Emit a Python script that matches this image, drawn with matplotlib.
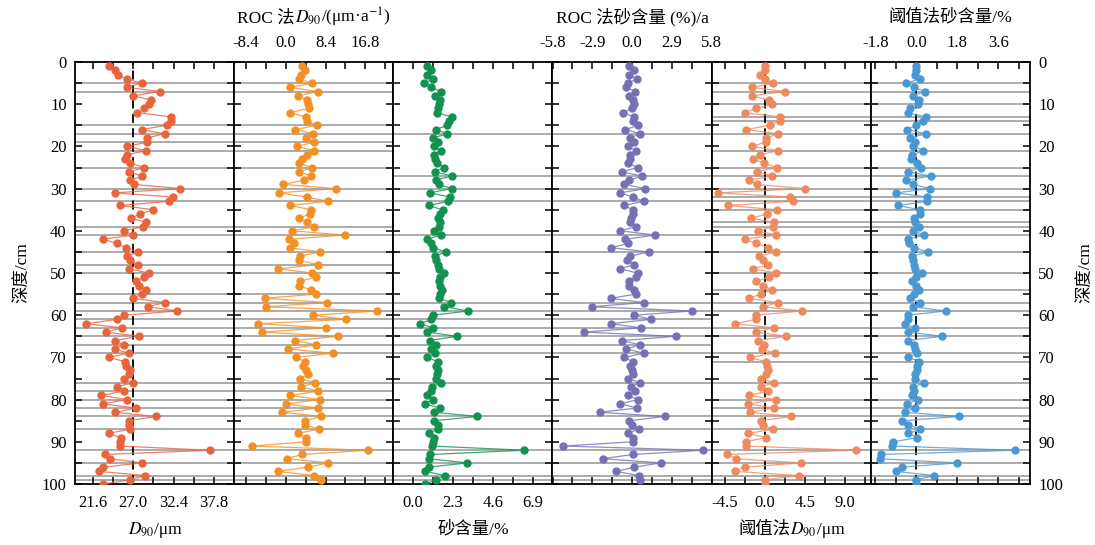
import numpy as np
import matplotlib
matplotlib.use("Agg")
import matplotlib.pyplot as plt
from matplotlib.ticker import MultipleLocator, FormatStrFormatter
from matplotlib.offsetbox import TextArea, HPacker, AnnotationBbox

plt.rcParams['font.family'] = ['Liberation Serif', 'Noto Sans CJK SC']
plt.rcParams['mathtext.fontset'] = 'stix'
plt.rcParams['font.size'] = 12

# sample depths (cm)
depth = np.arange(1, 101)

# grain size D90 (um)
d90 = [23.8, 24.6, 24.9, 26.1, 28.1, 26.1, 30.6, 27.0, 29.4, 29.1,
       28.4, 27.5, 32.0, 32.0, 31.5, 28.1, 31.2, 28.8, 28.8, 26.2,
       28.7, 26.1, 25.9, 26.6, 28.5, 26.4, 28.2, 26.6, 27.1, 33.3,
       24.5, 32.3, 31.8, 25.2, 29.7, 27.9, 26.7, 28.7, 28.3, 25.7,
       27.0, 23.0, 24.8, 26.0, 27.6, 26.2, 26.6, 27.6, 26.4, 29.1,
       28.4, 27.3, 27.8, 28.7, 28.1, 27.0, 31.2, 29.0, 32.9, 25.7,
       24.8, 20.7, 25.5, 23.4, 27.8, 24.5, 25.7, 24.5, 26.4, 23.7,
       25.9, 26.0, 26.6, 26.4, 25.7, 26.9, 24.8, 25.7, 22.7, 26.2,
       22.9, 27.3, 24.6, 30.0, 26.4, 26.4, 26.6, 23.7, 25.3, 25.2,
       25.2, 37.2, 23.2, 23.9, 28.1, 23.0, 22.4, 28.6, 26.6, 23.0]

# ROC of D90
roc_d90 = [3.4, 4.0, 3.3, 2.7, 5.6, 0.9, 6.8, 2.5, 4.4, 4.7,
           4.8, 0.9, 4.2, 4.4, 6.5, 2.0, 5.8, 4.2, 6.0, 2.3,
           6.0, 4.4, 3.5, 2.8, 5.6, 2.8, 5.4, 3.9, -0.5, 10.5,
           -1.4, 4.4, 8.9, 0.9, 5.3, 5.1, 2.8, 4.4, 6.0, 1.4,
           12.5, 0.7, 1.8, 0.8, 7.2, 3.0, 2.8, 6.7, -1.6, 5.6,
           6.3, 2.9, 2.8, 5.3, 6.3, -4.4, 8.8, -4.1, 19.3, 5.8,
           12.8, -5.8, 8.5, -5.1, 11.0, 1.9, 6.4, 0.5, 9.9, 2.2,
           4.0, 3.7, 4.2, 4.7, 3.0, 6.2, 3.3, 6.9, 0.9, 7.2,
           0.1, 6.7, -0.8, 7.4, 4.1, 4.1, 7.0, 2.6, 4.3, 4.2,
           -7.2, 17.3, 3.5, 0.2, 9.0, 4.7, -1.7, 6.0, 7.4]

# sand content (%)
sand = [0.81, 1.04, 0.81, 1.15, 0.65, 1.05, 1.63, 1.28, 1.57, 1.51,
        1.42, 1.38, 2.24, 2.11, 1.99, 1.32, 1.99, 1.15, 1.42, 1.19,
        1.63, 1.23, 1.28, 1.38, 1.80, 1.25, 2.24, 1.32, 1.51, 2.24,
        0.96, 2.15, 2.05, 0.90, 1.71, 1.57, 1.44, 1.57, 1.53, 1.19,
        1.61, 0.81, 1.04, 1.15, 1.90, 1.28, 1.32, 1.44, 1.48, 1.78,
        1.57, 1.48, 1.57, 1.67, 1.57, 1.51, 2.20, 1.82, 3.20, 1.15,
        1.05, 0.42, 1.15, 0.84, 2.53, 0.96, 1.32, 1.04, 1.25, 0.84,
        1.42, 1.34, 1.44, 1.38, 1.32, 1.63, 1.09, 1.05, 0.84, 1.15,
        0.67, 1.57, 1.23, 3.72, 1.19, 1.44, 1.42, 0.90, 1.19, 1.13,
        1.09, 6.42, 1.00, 0.90, 3.14, 0.90, 0.71, 1.86, 1.34, 0.67]

# ROC of sand content
roc_sand = [-0.19, 0.12, -0.24, 0.36, -0.31, -0.41, 0.24, -0.24, 0.07, 0.12,
            0.00, -0.65, 0.12, 0.07, 0.44, -0.48, 0.60, -0.17, 0.12, -0.31,
            0.31, -0.12, -0.17, -0.31, 0.41, -0.77, 0.73, -0.19, -0.56, 0.97,
            -0.89, 0.07, 0.85, -0.60, 0.07, 0.07, -0.05, -0.12, 0.29, -0.85,
            1.69, -0.48, -0.29, -1.52, 1.21, -0.12, -0.36, 0.17, -0.89, 0.42,
            0.26, -0.24, -0.24, 0.17, 0.29, -1.57, 0.85, -2.95, 4.35, 0.17,
            1.38, -1.57, 0.65, -3.50, 3.21, -0.73, 0.56, -0.41, 0.85, -0.56,
            0.07, -0.12, 0.00, 0.07, -0.29, 0.56, -0.05, 0.24, -0.31, 0.41,
            -0.85, 0.36, -2.37, 2.37, -0.19, 0.00, 0.48, -0.31, 0.07, 0.05,
            -5.03, 5.15, 0.07, -2.13, 2.10, 0.17, -1.14, 0.48, 0.60]

# threshold method D90
thr_d90 = [0.0, 0.0, -0.60, 0.0, 0.94, -1.43, 2.25, -1.43, 0.45, 0.83,
           -0.98, -2.29, 1.69, 1.69, 0.53, -2.14, 1.46, 0.15, 0.08, -1.50,
           1.50, -0.60, -1.31, -0.08, 1.31, -0.94, 0.83, -1.76, -0.94, 4.50,
           -5.29, 2.78, 3.15, -4.20, 1.31, 0.19, -1.54, 1.01, 0.94, -0.83,
           1.20, -2.25, -0.98, 0.38, 1.28, -0.68, -0.19, 0.38, -1.31, 1.28,
           0.45, -0.98, -0.19, 0.75, -0.49, -1.76, 1.46, -0.23, 4.13, -1.05,
           -1.05, -3.38, 1.01, -1.05, 2.40, -0.75, -0.11, -0.38, 1.13, -1.73,
           0.08, 0.26, 0.34, 0.08, -0.49, 1.01, -0.49, 0.38, -1.80, 1.20,
           -1.88, 1.01, -1.69, 2.96, -0.49, -0.19, 0.94, -1.88, 0.08, -2.18,
           -2.10, 10.2, -4.31, -3.23, 4.01, -2.25, -3.41, 3.83, -0.04, -0.04]

# threshold method sand content
thr_sand = [-0.03, -0.03, -0.07, 0.15, -0.44, -0.10, 0.36, -0.15, 0.12, 0.09,
            -0.28, -0.39, 0.41, 0.29, 0.00, -0.42, 0.41, -0.29, -0.06, -0.13,
            0.31, -0.18, -0.22, 0.01, 0.19, -0.39, 0.63, -0.44, -0.15, 0.60,
            -0.88, 0.48, 0.48, -0.80, 0.15, 0.15, -0.10, -0.06, 0.12, -0.13,
            0.34, -0.39, -0.32, -0.10, 0.51, -0.18, -0.13, -0.10, -0.07, 0.25,
            0.00, -0.18, -0.03, 0.12, -0.10, -0.29, 0.16, -0.15, 1.28, -0.39,
            -0.35, -0.51, -0.06, -0.35, 1.14, -0.39, -0.10, -0.06, 0.04, -0.35,
            0.12, 0.04, 0.01, -0.06, -0.06, 0.34, -0.15, -0.10, -0.18, 0.07,
            -0.42, -0.07, -0.50, 1.87, -0.61, -0.35, 0.15, -0.35, 0.04, -1.02,
            -1.09, 4.32, -1.56, -1.60, 1.79, -0.61, -0.90, 0.77, 0.00, -0.03]

# depths of detected change points (gray lines)
breaks_a = [5, 7, 15, 17, 19, 21, 25, 30, 33, 39, 41, 45, 48, 50, 55, 57, 59,
            61, 63, 65, 67, 69, 76, 78, 80, 82, 84, 87, 92, 95, 98, 99]
breaks_b = [17, 27, 30, 33, 41, 45, 57, 59, 61, 63, 65, 67, 69, 76, 84, 87,
            92, 95, 98, 99]
breaks_c = [5, 7, 10, 13, 14, 17, 21, 25, 27, 30, 32, 33, 35, 38, 39, 41, 45,
            50, 54, 57, 59, 63, 65, 69, 71, 76, 80, 82, 84, 87, 92, 95, 98, 99]

# axis label pieces: (text, is_math)
lab1 = [('$D_{90}$', True), ('/μm', False)]
lab2 = [('ROC 法', False), ('$D_{90}$', True), ('/(μm·a$^{-1}$)', True)]
lab3 = [('砂含量/%', False)]
lab4 = [('ROC 法砂含量 (%)/a', False)]
lab5 = [('阈值法', False), ('$D_{90}$', True), ('/μm', False)]
lab6 = [('阈值法砂含量/%', False)]

panels = [
    dict(y=d90, color='#E8643C', xlim=(19.2, 40.5), major=5.4, side='bottom',
         label=lab1, ref=27.0, breaks=breaks_a),
    dict(y=roc_d90, color='#F39025', xlim=(-10.9, 22.7), major=8.4, side='top',
         label=lab2, ref=None, breaks=breaks_a),
    dict(y=sand, color='#13924F', xlim=(-1.13, 8.05), major=2.3, side='bottom',
         label=lab3, ref=None, breaks=breaks_b),
    dict(y=roc_sand, color='#7471B5', xlim=(-5.81, 5.81), major=2.9, side='top',
         label=lab4, ref=None, breaks=breaks_b),
    dict(y=thr_d90, color='#EE8A5E', xlim=(-6.0, 11.9), major=4.5, side='bottom',
         label=lab5, ref=0.0, breaks=breaks_c),
    dict(y=thr_sand, color='#4A98D3', xlim=(-2.0, 4.98), major=1.8, side='top',
         label=lab6, ref=0.0, breaks=breaks_c),
]


def put_label(ax, parts, side):
    # CJK text and mathtext can't share one string, so pack the pieces side by side
    boxes = [TextArea(t, textprops=dict(fontsize=12.5)) for t, m in parts]
    pack = HPacker(children=boxes, align='baseline', pad=0, sep=0)
    y = -0.108 if side == 'bottom' else 1.106
    ab = AnnotationBbox(pack, (0.5, y), xycoords='axes fraction', frameon=False,
                        box_alignment=(0.5, 0.5), annotation_clip=False)
    ax.add_artist(ab)


fig = plt.figure(figsize=(10.95, 5.45), dpi=100)
axes = fig.subplots(1, 6, sharey=True)
fig.subplots_adjust(left=0.0685, right=0.9406, top=0.8862, bottom=0.1119, wspace=0)

for i, (ax, p) in enumerate(zip(axes, panels)):
    for b in p['breaks']:
        ax.axhline(b, color='#A5A5A5', lw=1.3, zorder=1)
    if p['ref'] is not None:
        ax.axvline(p['ref'], color='black', lw=1.3, ls=(0, (5, 3)), zorder=2)
    n = len(p['y'])
    ax.plot(p['y'], depth[:n], color=p['color'], lw=0.9, alpha=0.8, zorder=3)
    ax.plot(p['y'], depth[:n], 'o', color=p['color'], ms=5, zorder=4)

    ax.set_xlim(*p['xlim'])
    ax.set_ylim(100, 0)
    ax.xaxis.set_major_locator(MultipleLocator(p['major']))
    ax.xaxis.set_minor_locator(MultipleLocator(p['major'] / 2))
    ax.xaxis.set_major_formatter(FormatStrFormatter('%.1f'))
    ax.yaxis.set_major_locator(MultipleLocator(10))
    ax.yaxis.set_minor_locator(MultipleLocator(5))

    ax.tick_params(axis='both', which='both', direction='in', top=True, bottom=True,
                   left=True, right=True, labelsize=12,
                   labelbottom=p['side'] == 'bottom', labeltop=p['side'] == 'top',
                   labelleft=(i == 0), labelright=(i == 5))
    ax.tick_params(which='both', length=5, width=1.1)
    ax.tick_params(axis='x', which='major', pad=8)
    ax.tick_params(axis='y', which='major', pad=6)
    put_label(ax, p['label'], p['side'])
    for s in ax.spines.values():
        s.set_linewidth(1.3)

axes[0].set_ylabel('深度/cm', fontsize=12.5, labelpad=8)
axes[5].yaxis.set_label_position('right')
axes[5].set_ylabel('深度/cm', fontsize=12.5, rotation=90, labelpad=10)

fig.savefig('out.png', dpi=100)
